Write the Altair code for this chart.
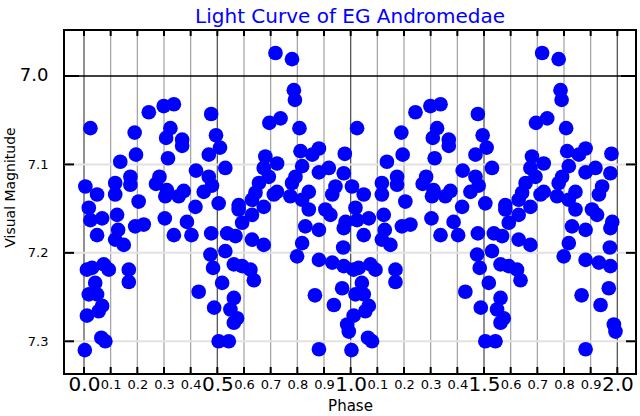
import altair as alt
import pandas as pd

phase = [0.024, 0.005, 0.049, 0.117, 0.117, 0.136, 0.195, 0.190, 0.174, 0.174,
         0.243, 0.299, 0.337, 0.324, 0.308, 0.368, 0.368, 0.315, 0.283, 0.270,
         0.311, 0.305, 0.374, 0.355, 0.420, 0.477, 0.495, 0.510, 0.468, 0.468,
         0.449, 0.718, 0.780, 0.787, 0.791, 0.695, 0.737, 0.808, 0.530, 0.680,
         0.724, 0.674, 0.693, 0.812, 0.881, 0.856, 0.818, 0.978, 0.881, 0.918,
         0.974, 0.793, 0.780, 0.656, 0.643, 0.724, 0.843, 0.943, 0.630, 0.580,
         0.774, 0.480, 0.931, 0.018, 0.024, 0.068, 0.049, 0.124, 0.128, 0.117,
         0.149, 0.205, 0.192, 0.224, 0.303, 0.337, 0.386, 0.418, 0.403, 0.477,
         0.474, 0.484, 0.430, 0.488, 0.011, 0.030, 0.074, 0.093, 0.042, 0.018,
         0.049, 0.068, 0.055, 0.011, 0.168, 0.168, 0.065, 0.080, 0.003, 0.505,
         0.580, 0.630, 0.674, 0.593, 0.537, 0.568, 0.630, 0.674, 0.530, 0.562,
         0.593, 0.624, 0.637, 0.518, 0.562, 0.549, 0.574, 0.562, 0.505, 0.543,
         0.712, 0.818, 0.843, 0.830, 0.881, 0.905, 0.924, 0.981, 0.974, 0.818,
         0.799, 0.972, 0.881, 0.931, 0.974, 0.968, 0.866, 0.937, 0.987, 0.993,
         0.881]
mag = [7.059, 7.125, 7.134, 7.121, 7.134, 7.097, 7.089, 7.064, 7.114, 7.123,
       7.041, 7.034, 7.032, 7.059, 7.070, 7.072, 7.079, 7.093, 7.114, 7.122,
       7.129, 7.136, 7.130, 7.136, 7.107, 7.043, 7.067, 7.081, 7.089, 7.114,
       7.131, 6.974, 6.981, 7.016, 7.027, 7.053, 7.048, 7.059, 7.104, 7.091,
       7.099, 7.104, 7.114, 7.085, 7.082, 7.089, 7.102, 7.088, 7.109, 7.104,
       7.110, 7.114, 7.121, 7.121, 7.132, 7.131, 7.131, 7.125, 7.140, 7.146,
       7.136, 7.124, 7.134, 7.149, 7.163, 7.161, 7.180, 7.157, 7.174, 7.185,
       7.191, 7.142, 7.170, 7.168, 7.161, 7.180, 7.165, 7.148, 7.180, 7.178,
       7.202, 7.217, 7.244, 7.262, 7.219, 7.217, 7.213, 7.219, 7.234, 7.247,
       7.247, 7.260, 7.266, 7.271, 7.219, 7.233, 7.296, 7.300, 7.310, 7.144,
       7.151, 7.157, 7.148, 7.166, 7.178, 7.181, 7.185, 7.191, 7.198, 7.213,
       7.215, 7.219, 7.231, 7.234, 7.251, 7.264, 7.274, 7.279, 7.300, 7.300,
       7.134, 7.140, 7.151, 7.170, 7.174, 7.151, 7.157, 7.165, 7.172, 7.189,
       7.204, 7.194, 7.208, 7.211, 7.215, 7.240, 7.248, 7.259, 7.281, 7.289,
       7.309]

x_ticks = [round(i * 0.1, 1) for i in range(21)]
y_ticks = [7.0, 7.1, 7.2, 7.3]

W, H = 572, 344

pts = pd.DataFrame({"phase": phase + [p + 1 for p in phase], "mag": mag + mag})
xt = pd.DataFrame({"phase": x_ticks,
                   "major": [abs(v * 2 - round(v * 2)) < 1e-6 for v in x_ticks]})
yt = pd.DataFrame({"mag": y_ticks, "major": [v == 7.0 for v in y_ticks]})

xscale = alt.Scale(domain=[-0.075, 2.07], nice=False, zero=False)
yscale = alt.Scale(domain=[6.948, 7.337], nice=False, zero=False, reverse=True)

is_major = "abs(datum.value*2 - round(datum.value*2)) < 0.01"

xaxis = alt.Axis(
    values=x_ticks, title="Phase",
    labelExpr=f"{is_major} ? format(datum.value, '.1f') : format(datum.value - floor(datum.value), '.1f')",
    labelFontSize={"condition": {"test": is_major, "value": 20}, "value": 13},
    ticks=False, tickSize=0, domain=False, grid=False,
    labelPadding=10, labelBaseline="middle", labelOverlap=False, labelFlush=False,
    labelColor="black", titleColor="black", titleFontSize=15, titleFontWeight="normal",
    titleY=31, titleBaseline="middle",
)
yaxis = alt.Axis(
    values=y_ticks, title="Visual Magnitude", format=".1f",
    labelFontSize={"condition": {"test": "datum.value < 7.05", "value": 18}, "value": 13},
    ticks=False, tickSize=0, domain=False, grid=False,
    labelPadding=16, labelOverlap=False, labelFlush=False,
    labelColor="black", titleColor="black", titleFontSize=14, titleFontWeight="normal",
    titleX=-54, titleY=157, titleBaseline="middle",
)

X = alt.X("phase:Q", scale=xscale, axis=xaxis)
Y = alt.Y("mag:Q", scale=yscale, axis=yaxis)

vgrid = alt.Chart(xt).mark_rule().encode(
    x=X,
    color=alt.condition("datum.major", alt.value("#555555"), alt.value("#a0a0a0")),
    strokeWidth=alt.condition("datum.major", alt.value(1.3), alt.value(1.2)),
)
hgrid = alt.Chart(yt).mark_rule().encode(
    y=Y,
    color=alt.condition("datum.major", alt.value("black"), alt.value("#e2e2e2")),
    strokeWidth=alt.condition("datum.major", alt.value(1.3), alt.value(2)),
)

xtick_top = alt.Chart(xt).mark_rule(color="black", strokeWidth=2).encode(
    x=X, y=alt.value(0), y2=alt.value(6))
xtick_bot = alt.Chart(xt).mark_rule(color="black", strokeWidth=2).encode(
    x=X, y=alt.value(H - 7), y2=alt.value(H))

ytick_l_major = alt.Chart(yt).transform_filter("datum.major").mark_rule(color="black", strokeWidth=2).encode(
    y=Y, x=alt.value(0), x2=alt.value(15))
ytick_l_minor = alt.Chart(yt).transform_filter("!datum.major").mark_rule(color="black", strokeWidth=2).encode(
    y=Y, x=alt.value(0), x2=alt.value(10))
ytick_r_major = alt.Chart(yt).transform_filter("datum.major").mark_rule(color="black", strokeWidth=2).encode(
    y=Y, x=alt.value(W - 15), x2=alt.value(W))
ytick_r_minor = alt.Chart(yt).transform_filter("!datum.major").mark_rule(color="black", strokeWidth=2).encode(
    y=Y, x=alt.value(W - 10), x2=alt.value(W))

points = alt.Chart(pts).mark_circle(size=215, color="#0000ff", opacity=1).encode(x=X, y=Y)

chart = alt.layer(
    vgrid, hgrid, xtick_top, xtick_bot,
    ytick_l_major, ytick_l_minor, ytick_r_major, ytick_r_minor, points,
).properties(
    width=W, height=H,
    title=alt.TitleParams("Light Curve of EG Andromedae", color="#0000ff", fontSize=20,
                          font="DejaVu Sans", fontWeight="normal", offset=2),
    padding={"left": 64, "top": 30, "right": 4, "bottom": 42},
    autosize=alt.AutoSizeParams(type="none"),
).configure_axis(
    labelFont="DejaVu Sans", titleFont="DejaVu Sans",
).configure_view(
    stroke="black", strokeWidth=2,
)

chart.save("out.html", embed_options={"renderer": "svg", "actions": False})
